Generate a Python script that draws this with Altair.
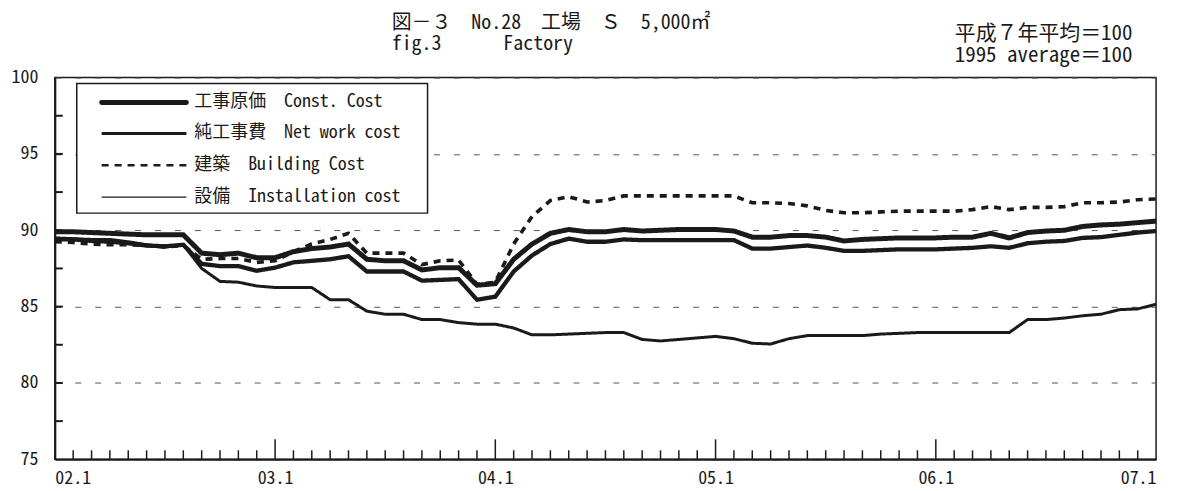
import altair as alt
import pandas as pd

# ---------------- data ----------------
x_labels = ["02.1", "03.1", "04.1", "05.1", "06.1", "07.1"]
series_names = [
    "工事原価\u00a0\u00a0Const. Cost",
    "純工事費\u00a0\u00a0Net work cost",
    "建築\u00a0\u00a0Building Cost",
    "設備\u00a0\u00a0Installation cost",
]

const_cost = [89.9, 89.9, 89.85, 89.8, 89.75, 89.7, 89.7, 89.7, 88.5, 88.4,
              88.5, 88.2, 88.2, 88.6, 88.8, 88.9, 89.1, 88.1, 88.0, 88.0,
              87.4, 87.55, 87.55, 86.4, 86.5, 88.1, 89.1, 89.8, 90.05, 89.9,
              89.9, 90.05, 89.95, 90.0, 90.05, 90.05, 90.05, 89.95, 89.55, 89.55,
              89.65, 89.65, 89.55, 89.3, 89.4, 89.45, 89.5, 89.5, 89.5, 89.55,
              89.55, 89.8, 89.5, 89.85, 89.95, 90.0, 90.25, 90.35, 90.4, 90.5,
              90.6]
net_work = [89.4, 89.4, 89.3, 89.25, 89.15, 89.0, 88.95, 89.05, 87.8, 87.65,
            87.65, 87.35, 87.55, 87.9, 88.0, 88.1, 88.3, 87.3, 87.3, 87.3,
            86.7, 86.75, 86.8, 85.45, 85.65, 87.3, 88.35, 89.1, 89.45, 89.25,
            89.25, 89.4, 89.35, 89.35, 89.35, 89.35, 89.35, 89.35, 88.8, 88.8,
            88.9, 89.0, 88.85, 88.65, 88.65, 88.7, 88.75, 88.75, 88.75, 88.8,
            88.85, 88.95, 88.85, 89.15, 89.25, 89.3, 89.5, 89.55, 89.7, 89.85,
            89.95]
building = [89.25, 89.2, 89.1, 89.05, 89.05, 89.0, 88.9, 89.0, 88.1, 88.15,
            88.15, 87.9, 88.0, 88.6, 89.1, 89.4, 89.8, 88.5, 88.5, 88.5,
            87.75, 88.0, 88.05, 86.45, 86.6, 89.1, 90.9, 91.95, 92.2, 91.85,
            91.95, 92.25, 92.25, 92.25, 92.25, 92.25, 92.25, 92.25, 91.8, 91.8,
            91.75, 91.6, 91.3, 91.15, 91.15, 91.2, 91.25, 91.25, 91.25, 91.25,
            91.35, 91.55, 91.35, 91.5, 91.5, 91.55, 91.8, 91.8, 91.85, 92.0,
            92.05]
installation = [89.5, 89.45, 89.4, 89.4, 89.25, 89.05, 88.9, 89.05, 87.5, 86.65,
                86.6, 86.35, 86.25, 86.25, 86.25, 85.45, 85.45, 84.7, 84.5, 84.5,
                84.15, 84.15, 83.95, 83.85, 83.85, 83.6, 83.15, 83.15, 83.2, 83.25,
                83.3, 83.3, 82.85, 82.75, 82.85, 82.95, 83.05, 82.9, 82.6, 82.55,
                82.9, 83.1, 83.1, 83.1, 83.1, 83.2, 83.25, 83.3, 83.3, 83.3,
                83.3, 83.3, 83.3, 84.15, 84.15, 84.25, 84.4, 84.5, 84.8, 84.85,
                85.15]

y_label_values = [75, 80, 85, 90, 95, 100]
y_tick_values = [77.5, 80, 82.5, 85, 87.5, 90, 92.5, 95, 97.5]

# ---------------- build tables ----------------
months = list(range(len(const_cost)))
rows = []
for name, vals in zip(series_names, [const_cost, net_work, building, installation]):
    for m, v in zip(months, vals):
        rows.append({"m": m, "v": v, "series": name})
df = pd.DataFrame(rows)

n_months = len(months) - 1
year_months = list(range(0, n_months + 1, 12))
tick_df = pd.DataFrame({"m": list(range(1, n_months))})
tick_df["major"] = tick_df["m"] % 12 == 0
ytick_df = pd.DataFrame({"t": y_tick_values})
one = pd.DataFrame({"a": [0]})

W, H = 1105, 383
FONT = "Noto Sans Mono CJK JP, Noto Sans CJK JP, DejaVu Sans Mono"
INK = "#1a1a1a"

x_scale = alt.Scale(domain=[0, n_months], nice=False, zero=False)
y_scale = alt.Scale(domain=[75, 100], nice=False, zero=False)
label_expr = "[" + ",".join(f"'{s}'" for s in x_labels) + "][round(datum.value/12)]"

lines = alt.Chart(df).mark_line(color=INK, strokeCap="butt").encode(
    x=alt.X("m:Q", scale=x_scale,
            axis=alt.Axis(values=year_months, labelExpr=label_expr, ticks=False,
                          grid=False, title=None, labelPadding=10)),
    y=alt.Y("v:Q", scale=y_scale,
            axis=alt.Axis(values=y_label_values, grid=True, gridDash=[6, 14],
                          gridColor="#555555", gridWidth=1, ticks=False,
                          title=None, labelPadding=17)),
    strokeWidth=alt.StrokeWidth("series:N",
                                scale=alt.Scale(domain=series_names, range=[5, 3, 2.6, 1.2]),
                                legend=None),
    strokeDash=alt.StrokeDash("series:N",
                              scale=alt.Scale(domain=series_names,
                                              range=[[1, 0], [1, 0], [7, 6], [1, 0]]),
                              legend=None),
)

yticks = alt.Chart(ytick_df).mark_rule(color=INK, strokeWidth=2).encode(
    y=alt.Y("t:Q", scale=y_scale), x=alt.value(0), x2=alt.value(8))

xticks_minor = alt.Chart(tick_df).transform_filter("!datum.major").mark_rule(
    color=INK, strokeWidth=1.5).encode(
    x=alt.X("m:Q", scale=x_scale), y=alt.value(H), y2=alt.value(H - 9))
xticks_major = alt.Chart(tick_df).transform_filter("datum.major").mark_rule(
    color=INK, strokeWidth=1.5).encode(
    x=alt.X("m:Q", scale=x_scale), y=alt.value(H), y2=alt.value(H - 20))

# ---------------- legend box ----------------
legend_layers = [
    alt.Chart(one).mark_rect(fill="white", stroke=INK, strokeWidth=1.5).encode(
        x=alt.value(22), x2=alt.value(374), y=alt.value(6), y2=alt.value(136))
]
sym_w = [5, 3, 2.6, 1.2]
sym_dash = [[1, 0], [1, 0], [7, 6], [1, 0]]
row_y = [25, 56, 88, 120]
for name, sw, sd, ry in zip(series_names, sym_w, sym_dash, row_y):
    legend_layers.append(
        alt.Chart(one).mark_rule(color=INK, strokeWidth=sw, strokeDash=sd,
                                 strokeCap="round" if sw > 4 else "butt").encode(
            x=alt.value(47), x2=alt.value(132), y=alt.value(ry)))
    legend_layers.append(
        alt.Chart(one).mark_text(align="left", baseline="middle", font=FONT,
                                 fontSize=18, color=INK).encode(
            x=alt.value(140), y=alt.value(ry), text=alt.value(name)))

# ---------------- titles ----------------
def txt(s, x, y, size=20):
    return alt.Chart(one).mark_text(align="left", baseline="middle", font=FONT,
                                    fontSize=size, color=INK).encode(
        x=alt.value(x), y=alt.value(y), text=alt.value(s))

titles = [
    txt("図－３\u3000No.28\u3000工場\u3000Ｓ\u30005,000㎡", 338, -55),
    txt("fig.3", 338, -34),
    txt("Factory", 450, -34),
    txt("平成７年平均＝100", 903, -44, 21),
    txt("1995 average＝100", 903, -22, 21),
]

chart = alt.layer(lines, yticks, xticks_minor, xticks_major, *legend_layers, *titles).properties(
    width=W, height=H,
    padding={"left": 47, "top": 69, "right": 18, "bottom": 31},
    autosize=alt.AutoSizeParams(type="none"),
).configure_view(stroke=INK, strokeWidth=1.5).configure_axis(
    domainColor=INK, domainWidth=2, labelFont=FONT, labelFontSize=18,
    labelColor=INK,
)

chart.save("out.html", embed_options={"renderer": "svg", "actions": False})
